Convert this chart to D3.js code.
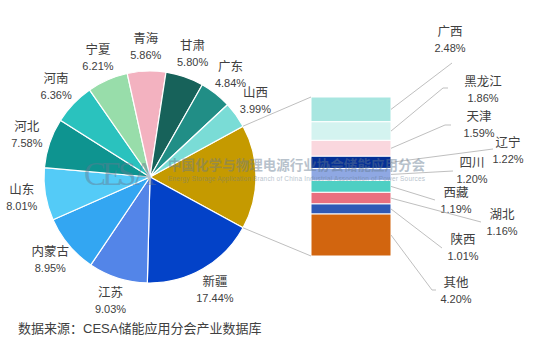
<!DOCTYPE html>
<html><head><meta charset="utf-8">
<script src="https://cdn.jsdelivr.net/npm/d3@7/dist/d3.min.js"></script>
<style>
html,body{margin:0;padding:0;background:#fff;}
svg{display:block;font-family:"Liberation Sans","Noto Sans CJK SC",sans-serif;}
</style></head>
<body><svg id="c" width="553" height="340"></svg>
<script>
// ---- data ----
const pieCategories = ["其他合计","新疆","江苏","内蒙古","山东","河北","河南","宁夏","青海","甘肃","广东","山西"];
const pieValues     = [15.91,17.44,9.03,8.95,8.01,7.58,6.36,6.21,5.86,5.80,4.84,3.99];
const pieColors     = ["#C59A00","#0342C8","#5385E8","#33A6F2","#54CBF7","#0E9490","#2AC2BE","#98DDAA","#F3B2C0","#17625A","#218E86","#7ADCD6"];
const barCategories = ["广西","黑龙江","天津","辽宁","四川","西藏","湖北","陕西","其他"];
const barValues     = [2.48,1.86,1.59,1.22,1.20,1.19,1.16,1.01,4.20];
const barColors     = ["#A8E6E0","#D4F3F0","#FAD7DE","#042F96","#8FA8E3","#4ECFC3","#E9707F","#2F59B5","#D2650F"];
// label layout for bar labels: text center x, name y, leader end (x,y), elbow end x (or null)
const barLabelLayout = [
  [450, 32, 452, 63, null],
  [483, 82, 443, 88, 448],
  [479,117, 445,125, 451],
  [508,143, 493,149, null],
  [472,163, 453,171, null],
  [456,193, 435,200, null],
  [502,215, 481,222, null],
  [463,240, 442,248, null],
  [456,283, 432,290, 436]
];
const sourceText = "数据来源：CESA储能应用分会产业数据库";

// ---- layout ----
const svg = d3.select("#c");
const cx = 150, cy = 177, r = 106, labelR = 130;
const barX = 311, barW = 80, barTop = 97, barBottom = 256;
const textColor = "#404040", lineColor = "#BFBFBF";

const otherSpan = pieValues[0] / d3.sum(pieValues) * 2 * Math.PI;
const pie = d3.pie().sort(null).value(d => d)
  .startAngle(Math.PI/2 - otherSpan/2).endAngle(Math.PI/2 - otherSpan/2 + 2*Math.PI);
const arcs = pie(pieValues);
const arc = d3.arc().innerRadius(0).outerRadius(r);

const g = svg.append("g").attr("transform", `translate(${cx},${cy})`);
g.selectAll("path").data(arcs).enter().append("path")
  .attr("d", arc).attr("fill", (d,i) => pieColors[i])
  .attr("stroke", "#fff").attr("stroke-width", 1.2);

// pie labels
arcs.forEach((d, i) => {
  if (i === 0) return;
  const a = (d.startAngle + d.endAngle) / 2;
  const x = cx + labelR * Math.sin(a), y = cy - labelR * Math.cos(a);
  svg.append("text").attr("x", x).attr("y", y - 8).attr("text-anchor","middle")
    .attr("dominant-baseline","central").attr("font-size", 12.5).attr("fill", textColor)
    .text(pieCategories[i]);
  svg.append("text").attr("x", x).attr("y", y + 8).attr("text-anchor","middle")
    .attr("dominant-baseline","central").attr("font-size", 11).attr("fill", textColor)
    .text(pieValues[i].toFixed(2) + "%");
});

// bar
const total = d3.sum(barValues);
const y = d3.scaleLinear().domain([0, total]).range([barTop, barBottom]);
const cum = d3.cumsum(barValues);
const segs = barValues.map((v, i) => ({v, y0: i ? cum[i-1] : 0, y1: cum[i]}));
svg.selectAll("rect.seg").data(segs).enter().append("rect").attr("class","seg")
  .attr("x", barX).attr("width", barW)
  .attr("y", d => y(d.y0)).attr("height", d => y(d.y1) - y(d.y0))
  .attr("fill", (d,i) => barColors[i]).attr("stroke","#fff").attr("stroke-width",1);

// connectors pie -> bar
const a0 = arcs[0].startAngle, a1 = arcs[0].endAngle;
svg.append("line").attr("x1", cx + r*Math.sin(a0)).attr("y1", cy - r*Math.cos(a0))
  .attr("x2", barX).attr("y2", y(0)).attr("stroke", lineColor).attr("stroke-width", 1);
svg.append("line").attr("x1", cx + r*Math.sin(a1)).attr("y1", cy - r*Math.cos(a1))
  .attr("x2", barX).attr("y2", y(total)).attr("stroke", lineColor).attr("stroke-width", 1);

// bar labels + leaders
segs.forEach((d, i) => {
  const [tx, ty, ex, ey, elx] = barLabelLayout[i];
  const sy = (y(d.y0) + y(d.y1)) / 2;
  const pts = [[barX + barW, sy], [ex, ey]];
  if (elx !== null) pts.push([elx, ey]);
  svg.append("path").attr("d", d3.line()(pts)).attr("fill","none")
    .attr("stroke", lineColor).attr("stroke-width", 1);
  svg.append("text").attr("x", tx).attr("y", ty).attr("text-anchor","middle")
    .attr("dominant-baseline","central").attr("font-size", 12.5).attr("fill", textColor)
    .text(barCategories[i]);
  svg.append("text").attr("x", tx).attr("y", ty + 15.5).attr("text-anchor","middle")
    .attr("dominant-baseline","central").attr("font-size", 11).attr("fill", textColor)
    .text(barValues[i].toFixed(2) + "%");
});

// watermark
const wm = svg.append("g").attr("opacity", 0.45).attr("fill", "#647a90");
wm.append("text").attr("x", 84).attr("y", 185).attr("font-size", 33)
  .attr("font-family", "Liberation Serif, serif").attr("textLength", 72).text("CESA");
wm.append("text").attr("x", 168).attr("y", 170).attr("font-size", 13.5).attr("font-weight", "bold")
  .attr("font-family", "Noto Sans CJK SC").attr("textLength", 257).text("中国化学与物理电源行业协会储能应用分会");
wm.append("text").attr("x", 168).attr("y", 181).attr("font-size", 6.5)
  .attr("textLength", 257).text("Energy Storage Application Branch of China Industrial Association of Power Sources");

// source
svg.append("text").attr("x", 18).attr("y", 328).attr("dominant-baseline","central")
  .attr("font-size", 13).attr("fill", textColor).text(sourceText);
</script></body></html>
